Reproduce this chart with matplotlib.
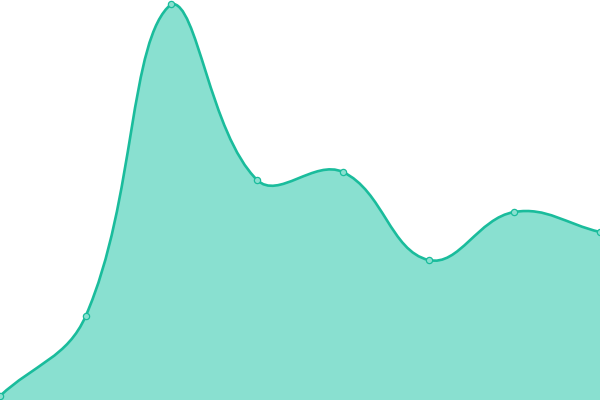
import numpy as np
import matplotlib
matplotlib.use("Agg")
import matplotlib.pyplot as plt
from matplotlib.path import Path
from matplotlib.patches import PathPatch

# 데이터 (픽셀에서 읽은 값)
categories = ["A", "B", "C", "D", "E", "F", "G", "H"]
values = [4, 84, 396, 220, 228, 140, 188, 168]

y_min, y_max = 0, 400
tension = 0.4
line_color = "#1abc9c"
fill_color = "#89e0d0"

W, H = 600, 400
n = len(values)
xs = np.arange(n, dtype=float)
ys = np.array(values, dtype=float)

# 거리 계산은 화면 비율 기준으로
sx = W / (n - 1)
sy = H / (y_max - y_min)
px = xs * sx
py = ys * sy


def spline_cps(px, py, t):
    cps = []
    for i in range(len(px)):
        p0 = (px[max(i - 1, 0)], py[max(i - 1, 0)])
        p1 = (px[i], py[i])
        p2 = (px[min(i + 1, len(px) - 1)], py[min(i + 1, len(px) - 1)])
        d01 = np.hypot(p1[0] - p0[0], p1[1] - p0[1])
        d12 = np.hypot(p2[0] - p1[0], p2[1] - p1[1])
        s01 = d01 / (d01 + d12) if d01 + d12 else 0
        s12 = d12 / (d01 + d12) if d01 + d12 else 0
        fa, fb = t * s01, t * s12
        prev_cp = (p1[0] - fa * (p2[0] - p0[0]), p1[1] - fa * (p2[1] - p0[1]))
        next_cp = (p1[0] + fb * (p2[0] - p0[0]), p1[1] + fb * (p2[1] - p0[1]))
        # 차트 영역 밖으로 나가지 않게
        prev_cp = (min(max(prev_cp[0], 0), W), min(max(prev_cp[1], 0), H))
        next_cp = (min(max(next_cp[0], 0), W), min(max(next_cp[1], 0), H))
        cps.append((prev_cp, next_cp))
    return cps


cps = spline_cps(px, py, tension)

verts = [(xs[0], ys[0])]
codes = [Path.MOVETO]
for i in range(n - 1):
    c1 = cps[i][1]
    c2 = cps[i + 1][0]
    verts += [(c1[0] / sx, c1[1] / sy), (c2[0] / sx, c2[1] / sy), (xs[i + 1], ys[i + 1])]
    codes += [Path.CURVE4] * 3

line_path = Path(verts, codes)
fill_path = Path(verts + [(xs[-1], y_min), (xs[0], y_min), (xs[0], ys[0])],
                 codes + [Path.LINETO, Path.LINETO, Path.CLOSEPOLY])

fig = plt.figure(figsize=(6, 4), dpi=100)
ax = fig.add_axes([0, 0, 1, 1])
ax.add_patch(PathPatch(fill_path, facecolor=fill_color, edgecolor="none"))
ax.add_patch(PathPatch(line_path, facecolor="none", edgecolor=line_color, linewidth=1.9,
                       clip_on=False))
ax.plot(xs, ys, linestyle="none", marker="o", markersize=4.5, markerfacecolor=fill_color,
        markeredgecolor=line_color, markeredgewidth=0.9, clip_on=False, zorder=5)
ax.set_xlim(0, n - 1)
ax.set_ylim(y_min, y_max)
ax.axis("off")

fig.savefig("out.png", dpi=100)
